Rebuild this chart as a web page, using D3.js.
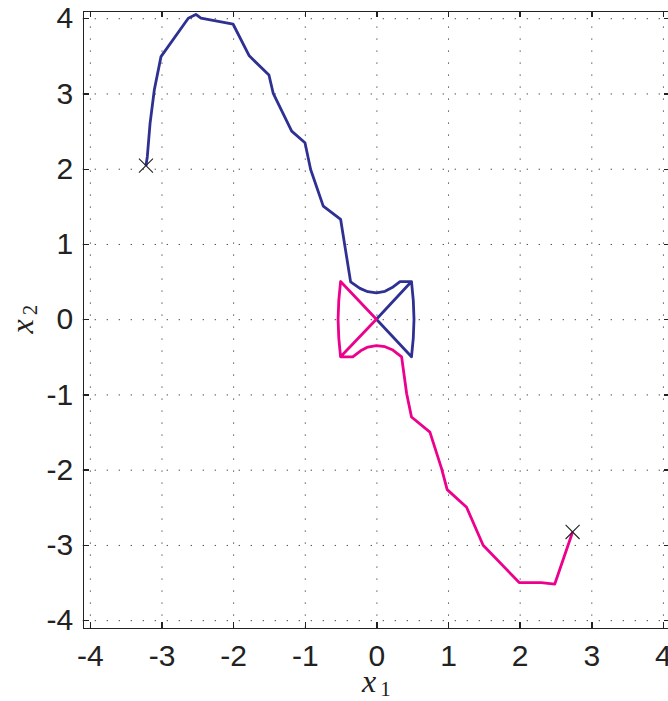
<!DOCTYPE html>
<html>
<head>
<meta charset="utf-8">
<script src="https://cdn.jsdelivr.net/npm/d3@7"></script>
<style>
  body { margin: 0; background: #fff; }
  svg { display: block; }
  .grid line { stroke: #333; stroke-width: 1; stroke-dasharray: 1.2, 10.8; }
  .grid path { display: none; }
  .axis path, .axis line { stroke: #222; stroke-width: 1.4; shape-rendering: crispEdges; }
  .axis text { font-family: "Liberation Sans", Arial, sans-serif; font-size: 30px; fill: #222; }
  .label { font-family: "Liberation Serif", "DejaVu Serif", serif; font-style: italic; fill: #222; }
  .sub { font-style: normal; }
</style>
</head>
<body>
<div id="chart"></div>
<script>
// tick values on both axes
var ticks = [-4, -3, -2, -1, 0, 1, 2, 3, 4];

// blue trajectory (x1, x2)
var blueX = [-3.217, -3.198, -3.16, -3.1, -3.007, -2.626, -2.52, -2.45, -2.0, -1.775, -1.5, -1.44,
             -1.183, -0.997, -0.918, -0.742, -0.499, -0.36, -0.23, -0.12, 0.0, 0.12, 0.22, 0.33, 0.49,
             0.0, 0.49, 0.515, 0.525, 0.515, 0.49];
var blueY = [2.04, 2.16, 2.6, 3.05, 3.49, 4.0, 4.05, 4.0, 3.92, 3.5, 3.245, 3.0,
             2.5, 2.345, 1.99, 1.503, 1.326, 0.496, 0.41, 0.365, 0.35, 0.37, 0.42, 0.5, 0.5,
             0.0, -0.5, -0.25, 0.0, 0.25, 0.5];

// pink trajectory (x1, x2)
var pinkX = [2.739, 2.49, 2.3, 1.993, 1.49, 1.259, 0.988, 0.91, 0.747, 0.49, 0.422, 0.352,
             0.23, 0.12, 0.0, -0.12, -0.22, -0.33, -0.5,
             0.0, -0.5, -0.525, -0.535, -0.525, -0.5];
var pinkY = [-2.828, -3.52, -3.5, -3.5, -3.005, -2.5, -2.265, -1.985, -1.5, -1.3, -0.988, -0.5,
             -0.41, -0.365, -0.35, -0.37, -0.42, -0.5, -0.5,
             0.0, 0.5, 0.25, 0.0, -0.25, -0.5];

// start points (cross markers)
var startX = [-3.217, 2.739];
var startY = [2.04, -2.828];

var W = 668, H = 701;
var x = d3.scaleLinear().domain([-4.1, 4.1]).range([82.7, 670.1]);
var y = d3.scaleLinear().domain([-4.1, 4.1]).range([627.7, 10.7]);

var svg = d3.select("#chart").append("svg")
  .attr("width", W)
  .attr("height", H);

// dotted grid
svg.append("g")
  .attr("class", "grid")
  .attr("transform", "translate(0," + y(-4.1) + ")")
  .call(d3.axisBottom(x).tickValues(ticks).tickSize(-(y(-4.1) - y(4.1))).tickFormat(""));
svg.append("g")
  .attr("class", "grid")
  .attr("transform", "translate(" + x(-4.1) + ",0)")
  .call(d3.axisLeft(y).tickValues(ticks).tickSize(-(x(4.1) - x(-4.1))).tickFormat(""));

// the two trajectories
var line = d3.line()
  .x(function(d) { return x(d[0]); })
  .y(function(d) { return y(d[1]); });

svg.append("path")
  .datum(d3.zip(blueX, blueY))
  .attr("d", line)
  .attr("fill", "none")
  .attr("stroke", "#2e3192")
  .attr("stroke-width", 2.8)
  .attr("stroke-linejoin", "round");

svg.append("path")
  .datum(d3.zip(pinkX, pinkY))
  .attr("d", line)
  .attr("fill", "none")
  .attr("stroke", "#ec008c")
  .attr("stroke-width", 2.8)
  .attr("stroke-linejoin", "round");

// cross markers at the start points
svg.selectAll(".marker")
  .data(d3.zip(startX, startY))
  .enter().append("path")
  .attr("class", "marker")
  .attr("transform", function(d) { return "translate(" + x(d[0]) + "," + y(d[1]) + ")"; })
  .attr("d", d3.symbol().type(d3.symbolX).size(130))
  .attr("fill", "none")
  .attr("stroke", "#222")
  .attr("stroke-width", 1.1);

// plain hyphen minus like the original
var fmt = function(d) { return String(d); };

// box axes with inward ticks
svg.append("g")
  .attr("class", "axis")
  .attr("transform", "translate(0," + y(-4.1) + ")")
  .call(d3.axisBottom(x).tickValues(ticks).tickSizeInner(-6).tickSizeOuter(0).tickPadding(17.5).tickFormat(fmt));
svg.append("g")
  .attr("class", "axis")
  .attr("transform", "translate(0," + y(4.1) + ")")
  .call(d3.axisTop(x).tickValues(ticks).tickSizeInner(-6).tickSizeOuter(0).tickFormat(""));
svg.append("g")
  .attr("class", "axis")
  .attr("transform", "translate(" + x(-4.1) + ",0)")
  .call(d3.axisLeft(y).tickValues(ticks).tickSizeInner(-6).tickSizeOuter(0).tickPadding(9.4).tickFormat(fmt));
svg.append("g")
  .attr("class", "axis")
  .attr("transform", "translate(" + x(4.1) + ",0)")
  .call(d3.axisRight(y).tickValues(ticks).tickSizeInner(-6).tickSizeOuter(0).tickFormat(""));

// axis labels
var xl = svg.append("text")
  .attr("class", "label")
  .attr("x", x(0))
  .attr("y", 692)
  .attr("text-anchor", "middle")
  .style("font-size", "32px");
xl.append("tspan").text("x");
xl.append("tspan").attr("class", "sub").attr("dx", 4).attr("dy", 4).style("font-size", "21px").text("1");

var yl = svg.append("text")
  .attr("class", "label")
  .attr("transform", "translate(33," + y(0) + ") rotate(-90)")
  .attr("text-anchor", "middle")
  .style("font-size", "32px");
yl.append("tspan").text("x");
yl.append("tspan").attr("class", "sub").attr("dx", 4).attr("dy", 4).style("font-size", "21px").text("2");
</script>
</body>
</html>
